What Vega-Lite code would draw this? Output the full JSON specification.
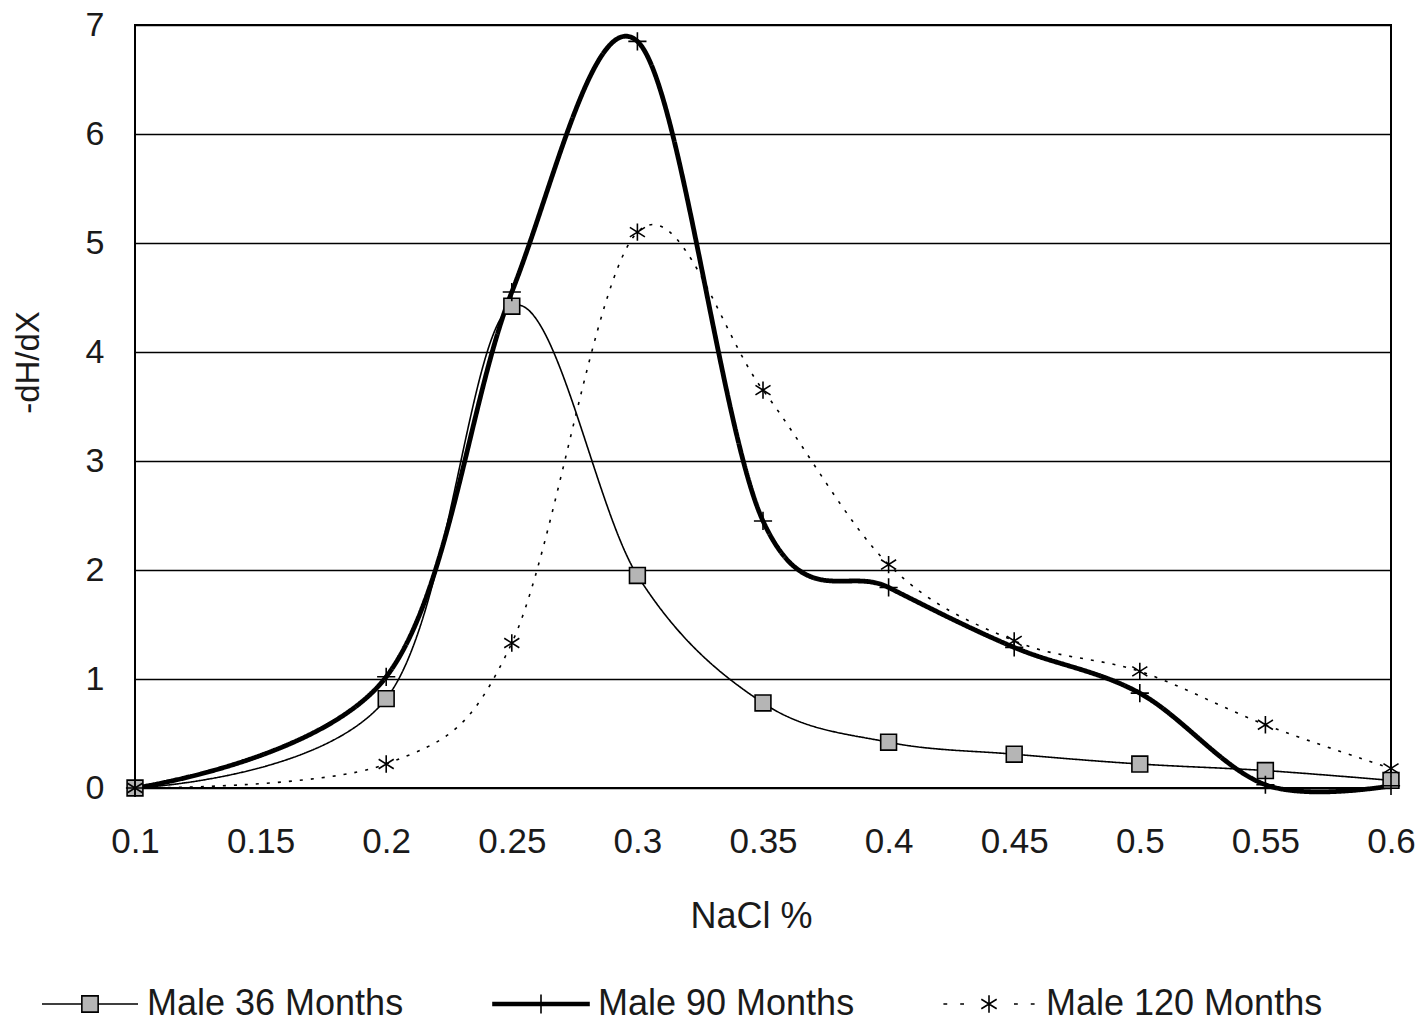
{
  "$schema": "https://vega.github.io/schema/vega-lite/v6.json",
  "width": 1256,
  "height": 763,
  "autosize": {"type": "none"},
  "padding": {"left": 135, "top": 25, "right": 30, "bottom": 239},
  "background": "white",
  "config": {
    "view": {"stroke": "black", "strokeWidth": 2},
    "font": "Liberation Sans",
    "axis": {"labelFont": "Liberation Sans", "titleFont": "Liberation Sans", "labelColor": "#1a1a1a", "titleColor": "#1a1a1a", "titleFontWeight": "normal"}
  },
  "data": {
    "values": [
      {"x": 0.1, "y": 0, "series": "Male 36 Months"},
      {"x": 0.2, "y": 0.82, "series": "Male 36 Months"},
      {"x": 0.25, "y": 4.42, "series": "Male 36 Months"},
      {"x": 0.3, "y": 1.95, "series": "Male 36 Months"},
      {"x": 0.35, "y": 0.78, "series": "Male 36 Months"},
      {"x": 0.4, "y": 0.42, "series": "Male 36 Months"},
      {"x": 0.45, "y": 0.31, "series": "Male 36 Months"},
      {"x": 0.5, "y": 0.22, "series": "Male 36 Months"},
      {"x": 0.55, "y": 0.16, "series": "Male 36 Months"},
      {"x": 0.6, "y": 0.07, "series": "Male 36 Months"},
      {"x": 0.1, "y": 0, "series": "Male 90 Months"},
      {"x": 0.2, "y": 1.02, "series": "Male 90 Months"},
      {"x": 0.25, "y": 4.55, "series": "Male 90 Months"},
      {"x": 0.3, "y": 6.85, "series": "Male 90 Months"},
      {"x": 0.35, "y": 2.45, "series": "Male 90 Months"},
      {"x": 0.4, "y": 1.84, "series": "Male 90 Months"},
      {"x": 0.45, "y": 1.29, "series": "Male 90 Months"},
      {"x": 0.5, "y": 0.87, "series": "Male 90 Months"},
      {"x": 0.55, "y": 0.03, "series": "Male 90 Months"},
      {"x": 0.6, "y": 0.02, "series": "Male 90 Months"},
      {"x": 0.1, "y": 0, "series": "Male 120 Months"},
      {"x": 0.2, "y": 0.22, "series": "Male 120 Months"},
      {"x": 0.25, "y": 1.33, "series": "Male 120 Months"},
      {"x": 0.3, "y": 5.1, "series": "Male 120 Months"},
      {"x": 0.35, "y": 3.65, "series": "Male 120 Months"},
      {"x": 0.4, "y": 2.05, "series": "Male 120 Months"},
      {"x": 0.45, "y": 1.35, "series": "Male 120 Months"},
      {"x": 0.5, "y": 1.07, "series": "Male 120 Months"},
      {"x": 0.55, "y": 0.58, "series": "Male 120 Months"},
      {"x": 0.6, "y": 0.18, "series": "Male 120 Months"}
    ]
  },
  "encoding": {
    "x": {
      "field": "x", "type": "quantitative",
      "scale": {"domain": [0.1, 0.6], "nice": false, "zero": false},
      "axis": {
        "values": [0.1, 0.15, 0.2, 0.25, 0.3, 0.35, 0.4, 0.45, 0.5, 0.55, 0.6],
        "format": ".2~f", "grid": false, "ticks": false, "domain": false,
        "labelFontSize": 35, "labelPadding": 36, "labelFlush": false,
        "title": "NaCl %", "titleFontSize": 36, "titleY": 128, "titleBaseline": "middle", "titleX": 616
      }
    },
    "y": {
      "field": "y", "type": "quantitative",
      "scale": {"domain": [0, 7], "nice": false},
      "axis": {
        "values": [0, 1, 2, 3, 4, 5, 6, 7], "grid": true, "gridColor": "black", "gridWidth": 1.5, "gridOpacity": 1,
        "ticks": false, "domain": false, "labelFontSize": 34, "labelPadding": 31,
        "title": "-dH/dX", "titleFontSize": 33, "titleAngle": 270, "titleX": -107, "titleY": 337,
        "titleAlign": "center", "titleBaseline": "middle"
      }
    }
  },
  "layer": [
    {
      "mark": {"type": "line", "interpolate": "cardinal", "color": "black"},
      "encoding": {
        "detail": {"field": "series"},
        "strokeDash": {"field": "series", "type": "nominal", "scale": {"type": "ordinal", "domain": ["Male 90 Months", "Male 36 Months", "Male 120 Months"], "range": [[1, 0], [1, 0], [3, 8]]}, "legend": null},
        "strokeWidth": {"field": "series", "type": "nominal", "scale": {"type": "ordinal", "domain": ["Male 90 Months", "Male 36 Months", "Male 120 Months"], "range": [4.8, 1.6, 1.6]}, "legend": null}
      }
    },
    {
      "transform": [{"filter": "datum.series === 'Male 36 Months'"}],
      "mark": {"type": "point", "shape": "square", "size": 250, "filled": true, "fill": "#b5b5b5", "stroke": "black", "strokeWidth": 1.6, "opacity": 1}
    },
    {
      "transform": [{"filter": "datum.series === 'Male 90 Months'"}],
      "mark": {"type": "point", "shape": "M-1,0H1M0,-1V1", "size": 330, "filled": false, "stroke": "black", "strokeWidth": 1.6, "opacity": 1}
    },
    {
      "transform": [{"filter": "datum.series === 'Male 120 Months'"}],
      "mark": {"type": "point", "shape": "M0,-1V1M-0.87,-0.55L0.87,0.55M-0.87,0.55L0.87,-0.55", "size": 300, "filled": false, "stroke": "black", "strokeWidth": 1.6, "opacity": 1}
    },
    {
      "mark": {"type": "point", "size": 0, "filled": true, "strokeWidth": 1.6, "opacity": 1},
      "encoding": {
        "fill": {
          "field": "series", "type": "nominal",
          "scale": {"domain": ["Male 36 Months", "Male 90 Months", "Male 120 Months"], "range": ["#b5b5b5", "black", "transparent"]},
          "legend": {
            "title": null, "orient": "none", "legendX": -94, "legendY": 930, "direction": "horizontal", "columns": 3,
            "columnPadding": 85, "padding": 0, "labelFont": "Liberation Sans", "labelFontSize": 36, "labelColor": "#1a1a1a",
            "labelLimit": 500, "labelOffset": 8, "symbolSize": 9216, "symbolStrokeWidth": 1.6
          }
        },
        "stroke": {
          "field": "series", "type": "nominal",
          "scale": {"domain": ["Male 36 Months", "Male 90 Months", "Male 120 Months"], "range": ["black", "black", "black"]},
          "legend": {
            "title": null, "orient": "none", "legendX": -94, "legendY": 930, "direction": "horizontal", "columns": 3,
            "columnPadding": 85, "padding": 0, "labelFont": "Liberation Sans", "labelFontSize": 36, "labelColor": "#1a1a1a",
            "labelLimit": 500, "labelOffset": 8, "symbolSize": 9216, "symbolStrokeWidth": 1.6
          }
        },
        "shape": {
          "field": "series", "type": "nominal",
          "scale": {"domain": ["Male 36 Months", "Male 90 Months", "Male 120 Months"], "range": [
            "M-1,0H-0.17M0.17,0H1M-0.17,-0.17H0.17V0.17H-0.17Z",
            "M-1,-0.03H1V0.03H-1ZM0,-0.2V0.2",
            "M-0.95,0H-0.87M-0.6,0H-0.52M0,-0.18V0.18M-0.16,-0.1L0.16,0.1M-0.16,0.1L0.16,-0.1M0.52,0H0.6M0.87,0H0.95"
          ]},
          "legend": {
            "title": null, "orient": "none", "legendX": -94, "legendY": 930, "direction": "horizontal", "columns": 3,
            "columnPadding": 85, "padding": 0, "labelFont": "Liberation Sans", "labelFontSize": 36, "labelColor": "#1a1a1a",
            "labelLimit": 500, "labelOffset": 8, "symbolSize": 9216, "symbolStrokeWidth": 1.6
          }
        }
      }
    }
  ]
}
